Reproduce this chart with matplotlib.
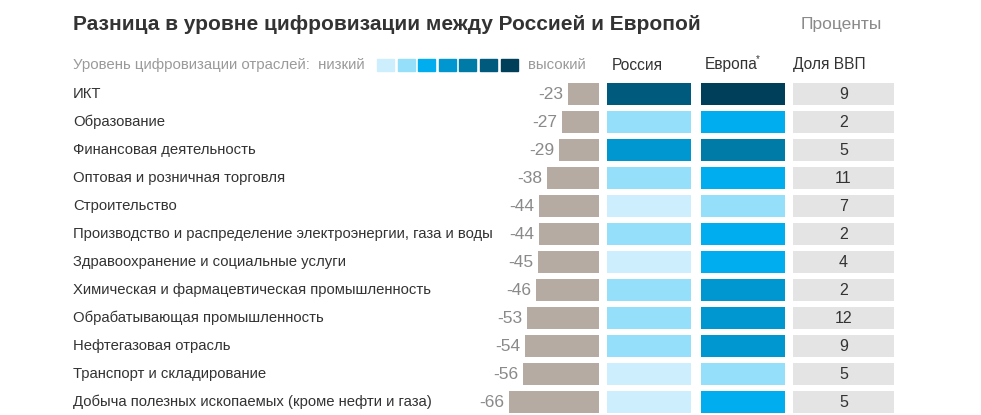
import matplotlib
matplotlib.use("Agg")
import matplotlib.pyplot as plt
import matplotlib.transforms as mtransforms
from matplotlib.patches import Rectangle

plt.rcParams['font.family'] = ['Liberation Sans', 'DejaVu Sans']

title = "Разница в уровне цифровизации между Россией и Европой"
units = "Проценты"
legend_label = "Уровень цифровизации отраслей:  низкий"
legend_high = "высокий"
col_headers = ["Россия", "Европа", "Доля ВВП"]

categories = [
    "ИКТ",
    "Образование",
    "Финансовая деятельность",
    "Оптовая и розничная торговля",
    "Строительство",
    "Производство и распределение электроэнергии, газа и воды",
    "Здравоохранение и социальные услуги",
    "Химическая и фармацевтическая промышленность",
    "Обрабатывающая промышленность",
    "Нефтегазовая отрасль",
    "Транспорт и складирование",
    "Добыча полезных ископаемых (кроме нефти и газа)",
]
gap = [-23, -27, -29, -38, -44, -44, -45, -46, -53, -54, -56, -66]
russia_level = [6, 2, 4, 2, 1, 2, 1, 2, 2, 2, 1, 1]
europe_level = [7, 3, 5, 3, 2, 3, 3, 4, 4, 4, 2, 3]
gdp_share = [9, 2, 5, 11, 7, 2, 4, 2, 12, 9, 5, 5]

level_colors = ["#cdeefc", "#95dffa", "#00aeef", "#0097d0", "#007ba8", "#005a7e", "#003f5a"]

W, H = 981, 415
fig = plt.figure(figsize=(W / 100, H / 100), dpi=100)
fig.patch.set_facecolor("white")

def px_axes(x0, x1, y0, y1):
    return fig.add_axes([x0 / W, 1 - y1 / H, (x1 - x0) / W, (y1 - y0) / H])

n = len(categories)
rows = list(range(n))
top_px, bot_px = 80, 416
bar_h = 22 / 28

dark = "#333333"
grey_txt = "#8a8a8a"

# gap bars
ax_gap = px_axes(490, 599, top_px, bot_px)
ax_gap.barh(rows, gap, height=bar_h, color="#b5aba2", left=0)
ax_gap.set_xlim(-80, 0)
for i, v in enumerate(gap):
    ax_gap.text(v - 3.5, i, f"{v}", ha="right", va="center", fontsize=12.5, color=grey_txt)

# Russia and Europe
ax_ru = px_axes(606.7, 691.3, top_px, bot_px)
ax_ru.barh(rows, [1] * n, height=bar_h, color=[level_colors[l - 1] for l in russia_level])
ax_ru.set_xlim(0, 1)
ax_eu = px_axes(701, 785.3, top_px, bot_px)
ax_eu.barh(rows, [1] * n, height=bar_h, color=[level_colors[l - 1] for l in europe_level])
ax_eu.set_xlim(0, 1)

# GDP share
ax_gdp = px_axes(793.3, 893.7, top_px, bot_px)
ax_gdp.barh(rows, [1] * n, height=bar_h, color="#e4e4e4")
ax_gdp.set_xlim(0, 1)
for i, v in enumerate(gdp_share):
    ax_gdp.text(0.5, i, str(v), ha="center", va="center", fontsize=11.5, color=dark)

for ax in (ax_gap, ax_ru, ax_eu, ax_gdp):
    ax.set_ylim(n - 0.5, -0.5)
    ax.axis("off")

# category labels
tr = mtransforms.blended_transform_factory(fig.transFigure, ax_gap.transData)
for i, c in enumerate(categories):
    ax_gap.text(73 / W, i, c, transform=tr, ha="left", va="center", fontsize=10.7,
                color=dark, clip_on=False)

# title and header
fig.text(73 / W, 1 - 25 / H, title, ha="left", va="center", fontsize=15,
         fontweight="bold", color=dark)
fig.text(882 / W, 1 - 25 / H, units, ha="right", va="center", fontsize=12.5, color=grey_txt)

hy = 1 - 65 / H
fig.text(73 / W, hy, legend_label, ha="left", va="center", fontsize=10.8, color="#9a9a9a")
for k, col in enumerate(level_colors):
    x0 = 377 + k * 20.6
    fig.patches.append(Rectangle((x0 / W, 1 - 71 / H), 17 / W, 12 / H,
                                 transform=fig.transFigure, color=col, figure=fig))
fig.text(528 / W, hy, legend_high, ha="left", va="center", fontsize=10.8, color="#9a9a9a")
fig.text(612 / W, hy, col_headers[0], ha="left", va="center", fontsize=11.2, color=dark)
fig.text(705 / W, hy, col_headers[1], ha="left", va="center", fontsize=11.2, color=dark)
fig.text(756 / W, 1 - 59 / H, "*", ha="left", va="center", fontsize=7, color=dark)
fig.text(793 / W, hy, col_headers[2], ha="left", va="center", fontsize=11.2, color=dark)

fig.savefig("out.png", dpi=100, facecolor="white")
